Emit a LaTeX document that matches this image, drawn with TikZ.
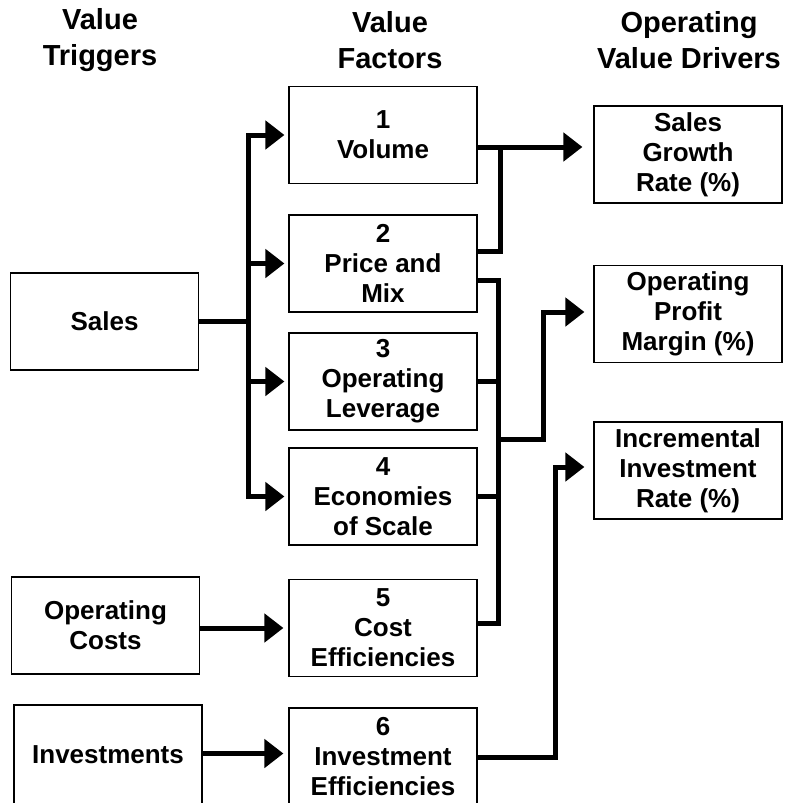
\documentclass[tikz,border=0pt]{standalone}
\usepackage{fontspec}
\setmainfont{Liberation Sans}
\usetikzlibrary{positioning,arrows.meta}

\begin{document}
\begin{tikzpicture}[x=1pt,y=-1pt,
    block/.style={rectangle,draw,line width=1.2pt,align=center,
		minimum width=188pt,minimum height=97pt,inner sep=1pt,
		font=\bfseries\fontsize{26}{30}\selectfont},
% Column titles
    head/.style={align=center,font=\bfseries\fontsize{29}{36}\selectfont},
    link/.style={line width=5pt},
    >={Triangle[length=19pt,width=28pt]}
    ]
    \useasboundingbox (0,0) rectangle (787,803);

    % Place nodes
    \node [head] (h_trig) at (100,40) {Value\\Triggers};
    \node [head] (h_fact) at (390,40) {Value\\Factors};
    \node [head] (h_driv) at (689,40) {Operating\\Value Drivers};

    \node [block] (sales) at (104.5,321.5) {Sales};
    \node [block] (opcost) at (105.5,625.5) {Operating\\Costs};
    \node [block, minimum height=100pt] (invest) at (108,755) {Investments};

    \begin{scope}[on grid]
    \node [block] (f1) at (383,135) {1\\Volume};
    \node [block, below=128.5pt of f1] (f2) {2\\Price and\\Mix};
    \node [block, below=118pt of f2] (f3) {3\\Operating\\Leverage};
    \node [block, below=115pt of f3] (f4) {4\\Economies\\of Scale};
    \node [block, below=131.5pt of f4] (f5) {5\\Cost\\Efficiencies};
    \node [block, below=128.5pt of f5] (f6) {6\\Investment\\Efficiencies};

    \node [block] (d1) at (688,154.5) {Sales\\Growth\\Rate (\%)};
    \node [block, below=159.5pt of d1] (d2) {Operating\\Profit\\Margin (\%)};
    \node [block, below=156.5pt of d2] (d3) {Incremental\\Investment\\Rate (\%)};
    \end{scope}

    \coordinate (j1) at (500,147);
    \coordinate (b2top) at (498,280);
    \coordinate (b2bot) at (498,623);
    \coordinate (j2) at (498,439);
    \coordinate (j3) at (555,757);

    % Draw edges
    \draw [link,->,shorten >=4pt] (sales.east) -- ++(49,0) |- (f1.west);
    \draw [link,->,shorten >=4pt] (sales.east) -- ++(49,0) |- (f2.west);
    \draw [link,->,shorten >=4pt] (sales.east) -- ++(49,0) |- (f3.west);
    \draw [link,->,shorten >=4pt] (sales.east) -- ++(49,0) |- (f4.west);
    \draw [link,->,shorten >=5pt] (opcost.east |- f5.west) -- (f5.west);
    \draw [link,->,shorten >=5pt] ([yshift=1.5pt]invest.east) -- ([yshift=1.5pt]invest.east -| f6.west);

    \draw [link,->,shorten >=11pt] ([yshift=-12pt]f1.east) -- (j1) -- (j1 -| d1.west);
    \draw [link] ([yshift=12.5pt]f2.east) -| (j1);

    \draw [link] (f2.east |- b2top) -- (b2top) -- (b2bot) -- (f5.east |- b2bot);
    \draw [link] (f3.east) -- (f3.east -| b2top);
    \draw [link] (f4.east) -- (f4.east -| b2top);
    \draw [link,->,shorten >=9pt] (j2) -- ++(45,0) |- ([yshift=2pt]d2.west);

    \draw [link,->,shorten >=9pt] (f6.east |- j3) -- (j3) |- ([yshift=3.5pt]d3.west);
\end{tikzpicture}
\end{document}
